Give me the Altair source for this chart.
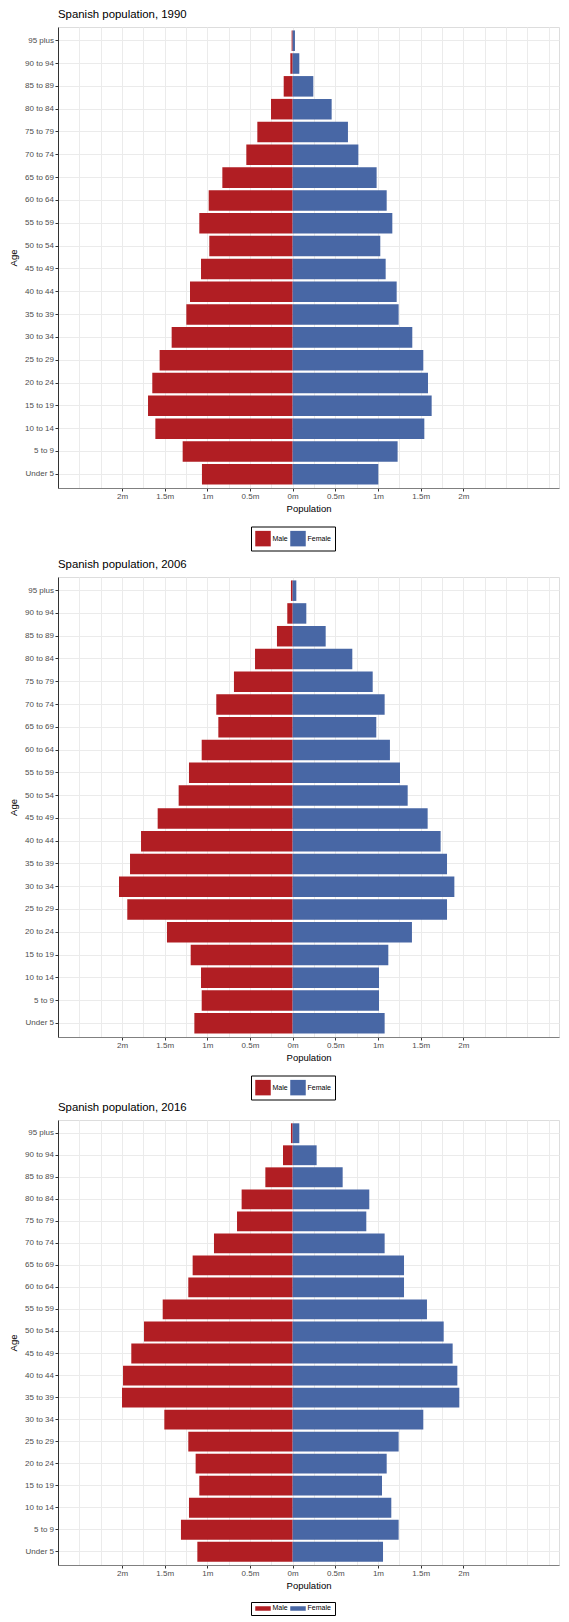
import altair as alt
import pandas as pd

ages = ["Under 5", "5 to 9", "10 to 14", "15 to 19", "20 to 24", "25 to 29",
        "30 to 34", "35 to 39", "40 to 44", "45 to 49", "50 to 54", "55 to 59",
        "60 to 64", "65 to 69", "70 to 74", "75 to 79", "80 to 84", "85 to 89",
        "90 to 94", "95 plus"]
sexes = ["Male", "Female"]

# population in millions, from "Under 5" up to "95 plus"
male_1990 = [1.063, 1.289, 1.609, 1.695, 1.645, 1.559, 1.418, 1.246, 1.203, 1.074,
             0.977, 1.094, 0.984, 0.824, 0.543, 0.414, 0.254, 0.105, 0.027, 0.012]
female_1990 = [1.004, 1.230, 1.543, 1.629, 1.586, 1.531, 1.402, 1.242, 1.219, 1.090,
               1.027, 1.168, 1.102, 0.984, 0.770, 0.648, 0.457, 0.242, 0.078, 0.027]
male_2006 = [1.152, 1.066, 1.074, 1.195, 1.473, 1.938, 2.035, 1.906, 1.777, 1.582,
             1.336, 1.215, 1.066, 0.871, 0.895, 0.688, 0.441, 0.184, 0.063, 0.020]
female_2006 = [1.078, 1.012, 1.012, 1.121, 1.398, 1.809, 1.895, 1.809, 1.734, 1.582,
               1.348, 1.258, 1.140, 0.980, 1.078, 0.938, 0.699, 0.387, 0.160, 0.043]
male_2016 = [1.117, 1.309, 1.215, 1.094, 1.137, 1.223, 1.504, 2.000, 1.988, 1.891,
             1.742, 1.523, 1.223, 1.172, 0.922, 0.652, 0.598, 0.320, 0.113, 0.020]
female_2016 = [1.059, 1.242, 1.156, 1.047, 1.102, 1.242, 1.531, 1.953, 1.930, 1.875,
               1.770, 1.574, 1.305, 1.305, 1.078, 0.863, 0.898, 0.586, 0.281, 0.078]

RED = "#B11E23"
BLUE = "#4867A5"
FONT = "Liberation Sans"
PX_PER_M = 85.33
XMIN = -2.75
WIDTH = 501


def panel(year, male, female, width, height, legend_gap, clip_height=None):
    df = pd.DataFrame({
        "Age": ages * 2,
        "Sex": ["Male"] * len(ages) + ["Female"] * len(ages),
        "Population": [-v for v in male] + list(female),
    })
    xmax = XMIN + width / PX_PER_M
    grid_vals = []
    v = XMIN
    while v <= xmax + 1e-9:
        grid_vals.append(v)
        v += 0.25
    major = "abs(datum.value) <= 2.001 && abs(datum.value * 2 - round(datum.value * 2)) < 0.001"
    x = alt.X(
        "Population:Q", stack=None,
        scale=alt.Scale(domain=[XMIN, xmax], nice=False, zero=False),
        axis=alt.Axis(
            values=grid_vals,
            labelExpr="(" + major + ") ? abs(datum.value) + 'm' : ''",
            tickOpacity={"condition": {"test": major, "value": 1}, "value": 0},
            grid=True, gridColor="#EBEBEB", gridWidth=1,
            domainColor="#808080", domainWidth=1.2,
            tickColor="#333333", tickSize=3, tickWidth=1,
            labelColor="#4D4D4D", labelFontSize=8, labelPadding=1,
            labelOverlap=False, labelFlush=False,
            titleFontSize=9.5, titleColor="black", titleFontWeight="normal",
            titlePadding=3,
        ),
        title="Population",
    )
    y = alt.Y(
        "Age:N", sort=ages[::-1],
        scale=alt.Scale(paddingInner=0.1, paddingOuter=0.15),
        axis=alt.Axis(
            grid=True, gridColor="#EBEBEB", gridWidth=1, tickBand="center",
            domainColor="#333333", domainWidth=1,
            tickColor="#333333", tickSize=3, tickWidth=1,
            labelColor="#4D4D4D", labelFontSize=8, labelPadding=1.5,
            titleFontSize=9.5, titleColor="black", titleFontWeight="normal",
            titlePadding=6,
        ),
        title="Age",
    )
    legend_args = dict(
        orient="none", legendX=193, legendY=height + legend_gap,
        direction="horizontal", title=None,
        symbolType="square", symbolSize=240, symbolStrokeWidth=0,
        symbolOpacity=1,
        labelFontSize=7, labelOffset=1.5, columnPadding=2,
        padding=4, strokeColor="black",
    )
    if clip_height is not None:
        legend_args["clipHeight"] = clip_height
    color = alt.Color(
        "Sex:N",
        scale=alt.Scale(domain=sexes, range=[RED, BLUE]),
        legend=alt.Legend(**legend_args),
    )
    return alt.Chart(
        df,
        title=alt.Title(
            f"Spanish population, {year}", anchor="start", frame="group",
            fontSize=11.4, fontWeight="normal", color="black", offset=7,
        ),
    ).mark_bar(clip=True).encode(x=x, y=y, color=color).properties(
        width=width, height=height
    )


p1 = panel(1990, male_1990, female_1990, WIDTH, 461, 38.5)
p2 = panel(2006, male_2006, female_2006, WIDTH, 460, 38.5)
p3 = panel(2016, male_2016, female_2016, WIDTH, 445, 37, clip_height=3)

inner = alt.concat(p2, p3, columns=1, spacing=0).resolve_scale(
    color="independent").resolve_legend(color="independent")

chart = alt.concat(p1, inner, columns=1, spacing=6, align="none").resolve_scale(
    color="independent"
).resolve_legend(color="independent").properties(
    padding=0
).configure_view(
    stroke="#333333", strokeWidth=1
).configure_legend(
    strokeWidth=1.5
).configure(
    font=FONT
)

chart.save("out.html", embed_options={"renderer": "svg", "actions": False})
